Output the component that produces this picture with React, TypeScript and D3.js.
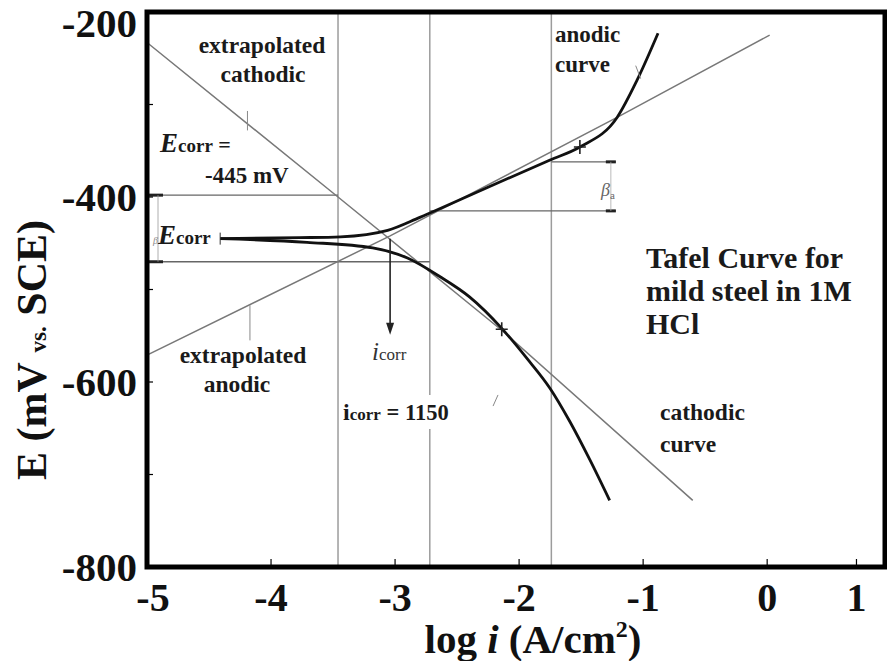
import React, { useEffect, useRef } from "react";
import * as d3 from "d3";

const W = 887;
const H = 661;
const M = { top: 12, right: 2, bottom: 94, left: 147 };
const FONT = "'Liberation Serif', 'Times New Roman', serif";

// axes
const X_DOMAIN: [number, number] = [-5, 0.95];
const Y_DOMAIN: [number, number] = [-800, -200];
const xTickValues = [-5, -4, -3, -2, -1, 0, 0.72];
const xTickLabels = ["-5", "-4", "-3", "-2", "-1", "0", "1"];
const yTickValues = [-800, -600, -400, -200];
const yTickLabels = ["-800", "-600", "-400", "-200"];
const yMinorTicks = [-700, -500, -300];

// measured curves (log i, E mV)
const anodicLogI = [-4.41, -3.77, -3.44, -3.06, -2.8, -2.26, -1.75, -1.51, -1.21, -1.05, -0.88];
const anodicE = [-445, -444, -443, -436, -422, -390, -360, -346, -314, -274, -223];
const cathodicLogI = [-4.41, -3.71, -3.18, -2.9, -2.64, -2.4, -2.14, -1.94, -1.75, -1.59, -1.43, -1.27];
const cathodicE = [-445, -449, -455, -466, -486, -508, -542, -574, -607, -643, -684, -728];

// Tafel extrapolations (as traced in the figure)
const anodicTafelLogI = [-5, -3.04, -1.21, 0.02];
const anodicTafelE = [-571, -442, -314, -225];
const cathodicTafelLogI = [-5, -3.46, -2.14, -0.6];
const cathodicTafelE = [-233, -400, -544, -728];

// construction lines
const gridLogI = [-3.46, -2.72, -1.74];
const bracketE = [-398, -470];
const bracketEndLogI = [-3.46, -2.72];
const betaE = [-362, -415];
const betaStartLogI = [-1.74, -2.72];
const betaEndLogI = -1.22;
const markerLogI = [-1.51, -2.14];
const markerE = [-346, -543];
const icorrLogI = -3.04;
const icorrFromE = -445;
const icorrToE = -549;

export default function App() {
    const svgRef = useRef<SVGSVGElement>(null);

    useEffect(() => {
        if (!svgRef.current) return;
        const svg = d3.select(svgRef.current);
        svg.selectAll("*").remove();

        const x = d3.scaleLinear().domain(X_DOMAIN).range([M.left, W - M.right]);
        const y = d3.scaleLinear().domain(Y_DOMAIN).range([H - M.bottom, M.top]);
        const x0 = M.left, x1 = W - M.right, y0 = M.top, y1 = H - M.bottom;

        svg.append("rect").attr("width", W).attr("height", H).attr("fill", "#fff");

        // vertical construction lines
        svg.selectAll(".grid")
            .data(gridLogI)
            .enter()
            .append("line")
            .attr("x1", (d) => x(d)).attr("x2", (d) => x(d))
            .attr("y1", y0).attr("y2", y1)
            .attr("stroke", "#9c9c9c")
            .attr("stroke-width", 1.5);

        // Ecorr bracket lines
        bracketE.forEach((e, i) => {
            svg.append("line")
                .attr("x1", x0).attr("x2", x(bracketEndLogI[i]))
                .attr("y1", y(e)).attr("y2", y(e))
                .attr("stroke", "#666").attr("stroke-width", 1.3);
            svg.append("line")
                .attr("x1", x0).attr("x2", x0 + 16)
                .attr("y1", y(e)).attr("y2", y(e))
                .attr("stroke", "#222").attr("stroke-width", 3);
        });
        svg.append("line")
            .attr("x1", x0 + 11).attr("x2", x0 + 11)
            .attr("y1", y(bracketE[0])).attr("y2", y(bracketE[1]))
            .attr("stroke", "#999").attr("stroke-width", 0.8);

        // beta_a bracket
        betaE.forEach((e, i) => {
            svg.append("line")
                .attr("x1", x(betaStartLogI[i])).attr("x2", x(betaEndLogI))
                .attr("y1", y(e)).attr("y2", y(e))
                .attr("stroke", "#666").attr("stroke-width", 1.3);
            svg.append("line")
                .attr("x1", x(betaEndLogI) - 10).attr("x2", x(betaEndLogI))
                .attr("y1", y(e)).attr("y2", y(e))
                .attr("stroke", "#222").attr("stroke-width", 3);
        });
        svg.append("line")
            .attr("x1", x(betaEndLogI) - 5).attr("x2", x(betaEndLogI) - 5)
            .attr("y1", y(betaE[0])).attr("y2", y(betaE[1]))
            .attr("stroke", "#aaa").attr("stroke-width", 0.8);

        // extrapolated Tafel lines
        const tafel = (li: number[], e: number[]) =>
            d3.line<number>().x((d) => x(d)).y((_d, i) => y(e[i]))(li);
        svg.append("path").attr("d", tafel(anodicTafelLogI, anodicTafelE))
            .attr("fill", "none").attr("stroke", "#787878").attr("stroke-width", 1.5);
        svg.append("path").attr("d", tafel(cathodicTafelLogI, cathodicTafelE))
            .attr("fill", "none").attr("stroke", "#787878").attr("stroke-width", 1.5);

        // polarization curves
        const curve = (li: number[], e: number[]) =>
            d3.line<number>()
                .x((d) => x(d))
                .y((_d, i) => y(e[i]))
                .curve(d3.curveMonotoneX)(li);
        svg.append("path").attr("d", curve(anodicLogI, anodicE))
            .attr("fill", "none").attr("stroke", "#111").attr("stroke-width", 2.8);
        svg.append("path").attr("d", curve(cathodicLogI, cathodicE))
            .attr("fill", "none").attr("stroke", "#111").attr("stroke-width", 2.8);
        // start cap
        svg.append("line")
            .attr("x1", x(anodicLogI[0])).attr("x2", x(anodicLogI[0]))
            .attr("y1", y(anodicE[0]) - 6).attr("y2", y(anodicE[0]) + 6)
            .attr("stroke", "#333").attr("stroke-width", 1);

        // tangent markers
        markerLogI.forEach((li, i) => {
            const cx = x(li), cy = y(markerE[i]);
            svg.append("path")
                .attr("d", `M${cx - 6},${cy}L${cx + 6},${cy}M${cx},${cy - 7}L${cx},${cy + 7}`)
                .attr("stroke", "#222").attr("stroke-width", 1.6);
        });

        // icorr arrow
        const ax = x(icorrLogI);
        svg.append("line")
            .attr("x1", ax).attr("x2", ax)
            .attr("y1", y(icorrFromE)).attr("y2", y(icorrToE) - 8)
            .attr("stroke", "#222").attr("stroke-width", 1.6);
        svg.append("path")
            .attr("d", `M${ax - 4},${y(icorrToE) - 12}L${ax + 4},${y(icorrToE) - 12}L${ax},${y(icorrToE)}Z`)
            .attr("fill", "#222");

        // leader strokes next to labels
        const leaders: [number, number, number, number][] = [
            [-4.19, -307, -4.19, -328],
            [-4.17, -517, -4.17, -555],
            [-1.06, -258, -1.02, -272],
            [-2.21, -626, -2.17, -614],
        ];
        leaders.forEach(([a, b, c, d]) => {
            svg.append("line")
                .attr("x1", x(a)).attr("y1", y(b)).attr("x2", x(c)).attr("y2", y(d))
                .attr("stroke", "#888").attr("stroke-width", 1);
        });

        // text helper
        type Part = { t: string; size: number; italic?: boolean; weight?: string; dy?: number; fill?: string };
        const label = (px: number, py: number, parts: Part[], anchor = "start", bg = false) => {
            const t = svg.append("text")
                .attr("x", px).attr("y", py)
                .attr("text-anchor", anchor)
                .attr("font-family", FONT)
                .attr("fill", "#1a1a1a");
            parts.forEach((p) => {
                t.append("tspan")
                    .attr("font-size", p.size)
                    .attr("font-style", p.italic ? "italic" : "normal")
                    .attr("font-weight", p.weight ?? "bold")
                    .attr("dy", p.dy ?? 0)
                    .attr("fill", p.fill ?? null)
                    .text(p.t);
            });
            if (bg) {
                const b = (t.node() as SVGTextElement).getBBox();
                svg.insert("rect", () => t.node() as Element)
                    .attr("x", b.x - 4).attr("y", b.y - 4)
                    .attr("width", b.width + 8).attr("height", b.height + 8)
                    .attr("fill", "#fff");
            }
            return t;
        };

        label(262, 53, [{ t: "extrapolated", size: 23.5 }], "middle");
        label(263, 82, [{ t: "cathodic", size: 23.5 }], "middle");
        label(160, 152, [
            { t: "E", size: 27, italic: true },
            { t: "corr", size: 19 },
            { t: " =", size: 22 },
        ]);
        label(205, 183, [{ t: "-445 mV", size: 23 }]);
        label(153, 244, [
            { t: "β", size: 10, italic: true, weight: "normal", fill: "#888" },
            { t: "E", size: 27, italic: true, dy: 0 },
            { t: "corr", size: 19 },
        ]);
        label(243, 363, [{ t: "extrapolated", size: 23.5 }], "middle");
        label(237, 392, [{ t: "anodic", size: 23.5 }], "middle");
        label(372, 360, [
            { t: "i", size: 25, italic: true, weight: "normal", fill: "#333" },
            { t: "corr", size: 17, weight: "normal", fill: "#333" },
        ]);
        label(343, 420, [
            { t: "i", size: 24 },
            { t: "corr", size: 17 },
            { t: " = 1150", size: 22.5 },
        ], "start", true);
        label(555, 42, [{ t: "anodic", size: 23 }]);
        label(555, 72, [{ t: "curve", size: 23 }]);
        label(646, 268, [{ t: "Tafel Curve for", size: 30 }]);
        label(646, 301, [{ t: "mild steel in 1M", size: 30 }]);
        label(646, 334, [{ t: "HCl", size: 30 }]);
        label(660, 420, [{ t: "cathodic", size: 23.5 }]);
        label(660, 452, [{ t: "curve", size: 23.5 }]);
        label(601, 196, [
            { t: "β", size: 18, italic: true, weight: "normal", fill: "#666" },
            { t: "a", size: 11, weight: "normal", fill: "#666", dy: 3 },
        ]);

        // frame
        svg.append("rect")
            .attr("x", x0).attr("y", y0)
            .attr("width", x1 - x0).attr("height", y1 - y0)
            .attr("fill", "none").attr("stroke", "#000").attr("stroke-width", 5);

        // ticks
        svg.selectAll(".xt")
            .data(xTickValues)
            .enter()
            .append("line")
            .attr("x1", (d) => x(d)).attr("x2", (d) => x(d))
            .attr("y1", y1).attr("y2", y1 - 8)
            .attr("stroke", "#000").attr("stroke-width", 1.2);
        svg.selectAll(".yt")
            .data([...yTickValues, ...yMinorTicks])
            .enter()
            .append("line")
            .attr("x1", x0).attr("x2", x0 + 6)
            .attr("y1", (d) => y(d)).attr("y2", (d) => y(d))
            .attr("stroke", "#000").attr("stroke-width", 1.2);

        svg.selectAll(".xl")
            .data(xTickValues)
            .enter()
            .append("text")
            .attr("x", (d, i) => x(d) + (i === 0 ? 6 : 0))
            .attr("y", y1 + 44)
            .attr("text-anchor", "middle")
            .attr("font-family", FONT)
            .attr("font-weight", "bold")
            .attr("font-size", 40)
            .attr("fill", "#111")
            .text((_d, i) => xTickLabels[i]);

        svg.selectAll(".yl")
            .data(yTickValues)
            .enter()
            .append("text")
            .attr("x", x0 - 10)
            .attr("y", (d) => Math.max(y(d), y0 + 11) + 14)
            .attr("text-anchor", "end")
            .attr("font-family", FONT)
            .attr("font-weight", "bold")
            .attr("font-size", 41)
            .attr("fill", "#111")
            .text((_d, i) => yTickLabels[i]);

        // axis titles
        const xt = svg.append("text")
            .attr("x", 533).attr("y", 653)
            .attr("text-anchor", "middle")
            .attr("font-family", FONT)
            .attr("font-weight", "bold")
            .attr("font-size", 41)
            .attr("fill", "#111");
        xt.append("tspan").text("log ");
        xt.append("tspan").attr("font-style", "italic").text("i");
        xt.append("tspan").text(" (A/cm");
        xt.append("tspan").attr("font-size", 24).attr("dy", -16).text("2");
        xt.append("tspan").attr("dy", 16).text(")");

        const yt = svg.append("text")
            .attr("transform", "translate(46,350) rotate(-90)")
            .attr("text-anchor", "middle")
            .attr("font-family", FONT)
            .attr("font-weight", "bold")
            .attr("font-size", 42)
            .attr("fill", "#111");
        yt.append("tspan").text("E (mV ");
        yt.append("tspan").attr("font-size", 23).text("vs.");
        yt.append("tspan").text(" SCE)");
    }, []);

    return (
        <svg
            ref={svgRef}
            width={W}
            height={H}
            style={{ position: "absolute", left: 0, top: 0, display: "block" }}
        />
    );
}
